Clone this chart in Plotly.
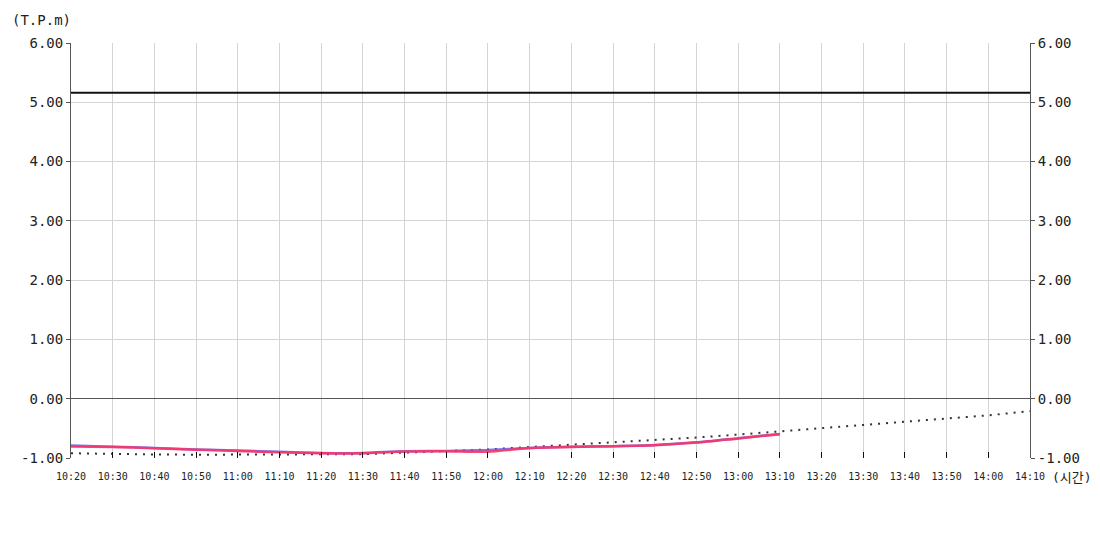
import plotly.graph_objects as go

times = ["10:20", "10:30", "10:40", "10:50", "11:00", "11:10", "11:20", "11:30",
         "11:40", "11:50", "12:00", "12:10", "12:20", "12:30", "12:40", "12:50",
         "13:00", "13:10", "13:20", "13:30", "13:40", "13:50", "14:00", "14:10"]

blue_values = [-0.79, -0.81, -0.83, -0.855, -0.875, -0.895, -0.915, -0.915,
               -0.885, -0.88, -0.865, -0.83, -0.81, -0.80, -0.78, -0.735,
               -0.665, -0.595]
red_values = [-0.805, -0.815, -0.835, -0.86, -0.88, -0.905, -0.92, -0.92,
              -0.89, -0.885, -0.895, -0.83, -0.815, -0.80, -0.785, -0.74,
              -0.67, -0.60]
forecast_values = [-0.92, -0.935, -0.94, -0.945, -0.945, -0.945, -0.94, -0.935,
                   -0.91, -0.885, -0.855, -0.815, -0.775, -0.745, -0.70, -0.655,
                   -0.605, -0.55, -0.50, -0.445, -0.39, -0.33, -0.28, -0.21]
limit_value = 5.16

y_ticks = [-1, 0, 1, 2, 3, 4, 5, 6]
y_labels = ["-1.00", "0.00", "1.00", "2.00", "3.00", "4.00", "5.00", "6.00"]

mono = "DejaVu Sans Mono, Noto Sans CJK KR, monospace"


def main():
    fig = go.Figure()

    fig.add_trace(go.Scatter(x=times, y=[limit_value] * len(times), mode="lines",
                             line=dict(color="#111111", width=2), yaxis="y2",
                             hoverinfo="skip"))
    fig.add_trace(go.Scatter(x=times, y=forecast_values, mode="lines",
                             line=dict(color="#333333", width=2, dash="2px,6px")))
    fig.add_trace(go.Scatter(x=times[:len(blue_values)], y=blue_values, mode="lines",
                             line=dict(color="rgba(90,100,240,0.85)", width=2.5,
                                       shape="spline", smoothing=0.6)))
    fig.add_trace(go.Scatter(x=times[:len(red_values)], y=red_values, mode="lines",
                             line=dict(color="rgba(255,50,100,0.9)", width=2.5,
                                       shape="spline", smoothing=0.6)))

    yax = dict(range=[-1, 6], tickvals=y_ticks, ticktext=y_labels,
               automargin=False,
               showgrid=True, gridcolor="#d4d4d4", gridwidth=1,
               zeroline=True, zerolinecolor="#555555", zerolinewidth=1,
               showline=True, linecolor="#555555", linewidth=1,
               ticks="outside", ticklen=4, tickcolor="#555555",
               tickfont=dict(family=mono, size=14, color="#222222"))

    # page body has an 8px margin, so margins are shifted to compensate
    fig.update_layout(
        width=1100, height=550,
        margin=dict(l=63, r=78, t=35, b=100),
        plot_bgcolor="white", paper_bgcolor="white",
        showlegend=False,
        xaxis=dict(type="category", range=[0, len(times) - 1],
                   automargin=False,
                   showgrid=True, gridcolor="#d4d4d4",
                   showline=False,
                   ticks="inside", ticklen=6, tickcolor="#111111",
                   ticklabelstandoff=11,
                   tickfont=dict(family=mono, size=10, color="#222222")),
        yaxis=yax,
        yaxis2=dict(yax, overlaying="y", side="right", showgrid=False),
    )

    fig.add_annotation(text="(T.P.m)", xref="paper", yref="paper", x=-0.064, y=1.055,
                       xanchor="left", yanchor="middle", showarrow=False,
                       font=dict(family=mono, size=14, color="#222222"))
    fig.add_annotation(text="(시간)", xref="paper", yref="paper", x=1.021, y=-0.046,
                       xanchor="left", yanchor="middle", showarrow=False,
                       font=dict(family=mono, size=13, color="#222222"))

    fig.write_html("out.html")


if __name__ == '__main__':
    main()
